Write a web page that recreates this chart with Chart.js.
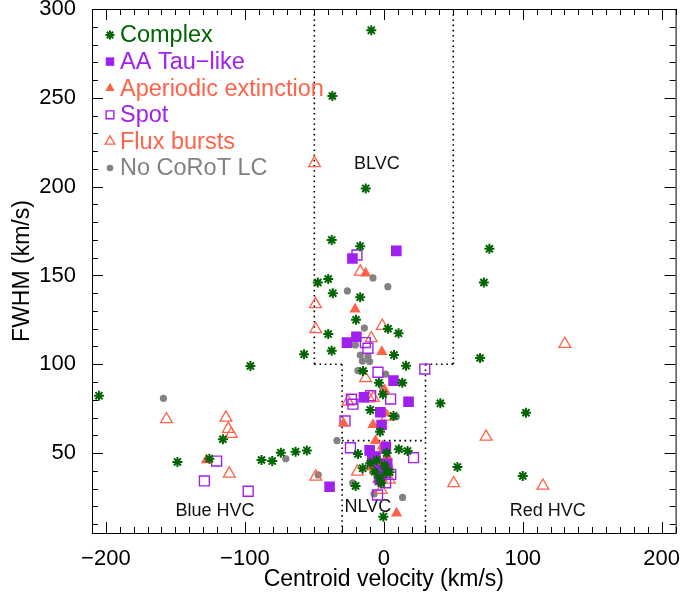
<!DOCTYPE html>
<html>
<head>
<meta charset="utf-8">
<script src="https://cdn.jsdelivr.net/npm/chart.js@4.4.0/dist/chart.umd.min.js"></script>
<style>
  html, body { margin: 0; padding: 0; background: #fff; }
</style>
</head>
<body>
<canvas id="fwhmChart" width="684" height="599"></canvas>
<script>
// categories, in legend order
const categories = ['Complex', 'AA Tau\u2212like', 'Aperiodic extinction', 'Spot', 'Flux bursts', 'No CoRoT LC'];

// centroid velocity (km/s) and FWHM (km/s) per category
const complexVel = [-9, -37, -13, -37.5, -17, 76, -40, -47.5, 72, -36.7, -17, -20, -40, 3, 10.6, -37.5, -57.4, 7.3, 16, -96, -205, 69.3, 40.7, 102.3, 53, 100, -115.8, -125.5, -148.5, -88, -80.3, -74.1, -63.5, -55.4, -15, -3.5, 13.3, -0.6, -9.7, 7, -2.7, 10.8, 17.1, -18.6, 2, -15.2, -9.7, -6.6, 4.2, -3, -1.8, -20.3, -0.3, 1.8, -5, 0.5];
const complexFwhm = [288, 251, 199, 170, 166.5, 165, 148, 146, 146, 140, 137.7, 125, 117, 120, 117.4, 107.6, 105.6, 105.2, 99.2, 99, 82.3, 103.5, 78, 72.7, 42.2, 37.1, 57.8, 46.8, 45, 46.1, 45.5, 50.2, 50.8, 51.5, 96.2, 89.6, 89.6, 83.1, 74.3, 70.9, 62, 52.1, 51.2, 49.5, 50, 41.4, 44.2, 39.5, 39.2, 36.1, 33, 31.5, 14.2, 39, 46, 43];

const aaTauVel = [9, -22.6, -26.5, -19.7, 7, 17.8, -14.3, -2.5, -1.6, -10.2, 1.5, -39, -8.3, -4, -3, -6, 2];
const aaTauFwhm = [163.8, 159.5, 112.2, 115.5, 90.8, 78.9, 81.4, 73, 65.8, 51.5, 53.5, 31, 46.1, 40.5, 34.8, 48, 44];

const aperVel = [-13.1, -20.7, -1.4, 0.6, -7.8, -6, -29, 9.2, 0.6, -127.6, -3, 0, -4.5, 2.5, -1, -9];
const aperFwhm = [151.2, 131, 107.1, 85.5, 66, 57, 66.8, 16.1, 72.4, 46.1, 44, 40, 35, 48, 54, 42];

const spotVel = [-19.3, -13.3, -11.4, 29.5, -4.2, 4.9, -23.3, -22.2, -9.5, -27.9, -24, 21.4, -4.5, 1.3, 2.2, -8, -120.3, -129.1, -97.6, -2, 5];
const spotFwhm = [161.5, 112.2, 109, 97.3, 95.5, 80.4, 80.3, 77.5, 82.3, 68.1, 53, 47.4, 26.4, 33.3, 43.9, 44.2, 45.5, 34.3, 28.5, 40, 38];

const fluxVel = [-49.9, -16.9, -49.2, -49, -1.1, -9, -13.1, -25.8, -10.7, 2.2, -19, -49, 50.3, -1.8, -5.9, 2.2, -156.4, -113.6, -111.9, -109.7, -111.2, 130.3, 73.6, 114.5, -7.5, -2, -8, 0, -3, 4];
const fluxFwhm = [213.2, 152.1, 133.8, 119.7, 121.6, 114.6, 92.1, 78.9, 80.8, 70.5, 39.5, 36.7, 33, 29.2, 40.5, 44.2, 69, 69.9, 63.6, 60.7, 38.4, 111.4, 59.2, 31.6, 81, 36, 47, 52, 38, 35];

const noLcVel = [-7.8, -26.2, 2.9, -14, -20.5, -16.9, -11.4, -15.4, -10.2, -18.6, 1.3, 9, -33.7, -47.2, -22.4, 13.5, -7, -0.6, -158.6, -70.5];
const noLcFwhm = [148.6, 141.3, 143.7, 120.4, 110.9, 105.2, 104.3, 101.8, 101.5, 96.4, 94.4, 70.5, 57, 37.7, 33.3, 25, 27, 86.5, 80.8, 46.8];

// region limits (km/s)
const blvcVel = 50, nlvcVel = 30, blvcFwhm = 100, nlvcFwhm = 57;
const regionNames = ['BLVC', 'NLVC', 'Blue HVC', 'Red HVC'];

const GREEN = '#006400', PURPLE = '#a020f0', TOMATO = '#ff6347', GRAY = '#828282';
const FONT = "'Liberation Sans', Arial, Helvetica, sans-serif";

const pts = (vx, vy) => vx.map((v, i) => ({x: v, y: vy[i]}));

const styles = [
    {pointStyle: 'star', radius: 5, borderWidth: 2, color: GREEN, fill: GREEN, lr: 4.5},
    {pointStyle: 'rect', radius: 7.5, borderWidth: 0, color: PURPLE, fill: PURPLE, lr: 6},
    {pointStyle: 'triangle', radius: 6.5, borderWidth: 0, color: TOMATO, fill: TOMATO, lr: 5.5},
    {pointStyle: 'rect', radius: 7, borderWidth: 1.4, color: PURPLE, fill: 'rgba(0,0,0,0)', lr: 5.5},
    {pointStyle: 'triangle', radius: 6.8, borderWidth: 1.3, color: TOMATO, fill: 'rgba(0,0,0,0)', lr: 5.5},
    {pointStyle: 'circle', radius: 3.6, borderWidth: 0, color: GRAY, fill: GRAY, lr: 3.3},
];
const series = [pts(complexVel, complexFwhm), pts(aaTauVel, aaTauFwhm), pts(aperVel, aperFwhm),
    pts(spotVel, spotFwhm), pts(fluxVel, fluxFwhm), pts(noLcVel, noLcFwhm)];

// box with inward ticks, region outlines, labels and legend (IDL look)
const idlPlot = {
    id: 'idlPlot',
    beforeDatasetsDraw(chart) {
        const {ctx, scales: {x, y}} = chart;
        const ymin = y.min, ymax = y.max;
        ctx.save();
        ctx.strokeStyle = '#000';
        ctx.lineWidth = 1.6;
        ctx.setLineDash([1.6, 3.6]);
        const seg = (v1, f1, v2, f2) => {
            ctx.beginPath();
            ctx.moveTo(x.getPixelForValue(v1), y.getPixelForValue(f1));
            ctx.lineTo(x.getPixelForValue(v2), y.getPixelForValue(f2));
            ctx.stroke();
        };
        seg(-blvcVel, ymax, -blvcVel, blvcFwhm);
        seg(blvcVel, ymax, blvcVel, blvcFwhm);
        seg(-blvcVel, blvcFwhm, -nlvcVel, blvcFwhm);
        seg(nlvcVel, blvcFwhm, blvcVel, blvcFwhm);
        seg(-nlvcVel, blvcFwhm, -nlvcVel, ymin);
        seg(nlvcVel, blvcFwhm, nlvcVel, ymin);
        seg(-nlvcVel, nlvcFwhm, nlvcVel, nlvcFwhm);
        ctx.setLineDash([]);

        ctx.fillStyle = '#111';
        ctx.font = '18px ' + FONT;
        ctx.textAlign = 'center';
        ctx.textBaseline = 'middle';
        const labelAt = [[-5, 213], [-11.5, 19.5], [-121.5, 17.4], [118, 17.4]];
        regionNames.forEach((n, i) => {
            ctx.fillText(n, x.getPixelForValue(labelAt[i][0]), y.getPixelForValue(labelAt[i][1]));
        });
        ctx.restore();
    },
    afterDraw(chart) {
        const {ctx, chartArea: a, scales: {x, y}} = chart;
        ctx.save();
        ctx.strokeStyle = '#000';
        ctx.lineWidth = 1;
        ctx.strokeRect(a.left + 0.5, a.top + 0.5, a.right - a.left, a.bottom - a.top);
        ctx.beginPath();
        for (let v = -210; v <= 210; v += 10) {
            const px = Math.round(x.getPixelForValue(v)) + 0.5;
            const len = v % 100 === 0 ? 11 : 6;
            ctx.moveTo(px, a.bottom); ctx.lineTo(px, a.bottom - len);
            ctx.moveTo(px, a.top); ctx.lineTo(px, a.top + len);
        }
        for (let v = 10; v <= 300; v += 10) {
            const py = Math.round(y.getPixelForValue(v)) + 0.5;
            const len = v % 50 === 0 ? 11 : 6;
            ctx.moveTo(a.left, py); ctx.lineTo(a.left + len, py);
            ctx.moveTo(a.right, py); ctx.lineTo(a.right - len, py);
        }
        ctx.stroke();

        // legend
        ctx.font = '23.5px ' + FONT;
        ctx.textAlign = 'left';
        ctx.textBaseline = 'middle';
        categories.forEach((name, i) => {
            const s = styles[i];
            const ly = 35 + i * 26.6;
            ctx.fillStyle = s.fill;
            ctx.strokeStyle = s.color;
            ctx.lineWidth = s.borderWidth;
            Chart.helpers.drawPoint(ctx, {pointStyle: s.pointStyle, radius: s.lr, rotation: 0, borderWidth: s.borderWidth}, a.left + 18, ly);
            ctx.fillStyle = s.color;
            ctx.fillText(name, a.left + 28, ly + 1);
        });
        ctx.restore();
    }
};

const minus = (v) => (v < 0 ? '\u2212' + Math.abs(v) : String(v));

new Chart(document.getElementById('fwhmChart'), {
    type: 'scatter',
    data: {
        datasets: series.map((d, i) => ({
            label: categories[i],
            data: d,
            pointStyle: styles[i].pointStyle,
            pointRadius: styles[i].radius,
            pointBorderWidth: styles[i].borderWidth,
            pointBorderColor: styles[i].color,
            pointBackgroundColor: styles[i].fill,
        })),
    },
    options: {
        responsive: false,
        animation: false,
        devicePixelRatio: 1,
        events: [],
        layout: {padding: {top: 9, right: 7, left: 0, bottom: 0}},
        plugins: {legend: {display: false}, tooltip: {enabled: false}},
        scales: {
            x: {
                type: 'linear',
                min: -210,
                max: 210,
                grid: {display: false},
                border: {display: false},
                ticks: {
                    stepSize: 100,
                    includeBounds: false,
                    maxRotation: 0,
                    padding: 5,
                    color: '#000',
                    font: {family: FONT, size: 22},
                    callback: minus,
                },
                title: {
                    display: true,
                    text: 'Centroid velocity (km/s)',
                    color: '#000',
                    font: {family: FONT, size: 23},
                    padding: {top: 0, bottom: 6},
                },
                afterFit(scale) {
                    scale.height = 66;
                    scale.paddingLeft = 0;
                    scale.paddingRight = 0;
                },
            },
            y: {
                type: 'linear',
                min: 5,
                max: 300,
                grid: {display: false},
                border: {display: false},
                ticks: {
                    stepSize: 50,
                    includeBounds: false,
                    padding: 8,
                    color: '#000',
                    font: {family: FONT, size: 22},
                },
                title: {
                    display: true,
                    text: 'FWHM (km/s)',
                    color: '#000',
                    font: {family: FONT, size: 23},
                    padding: {top: 9, bottom: 0},
                },
                afterFit(scale) {
                    scale.width = 92;
                    scale.paddingTop = 0;
                    scale.paddingBottom = 0;
                },
            },
        },
    },
    plugins: [idlPlot],
});
</script>
</body>
</html>
